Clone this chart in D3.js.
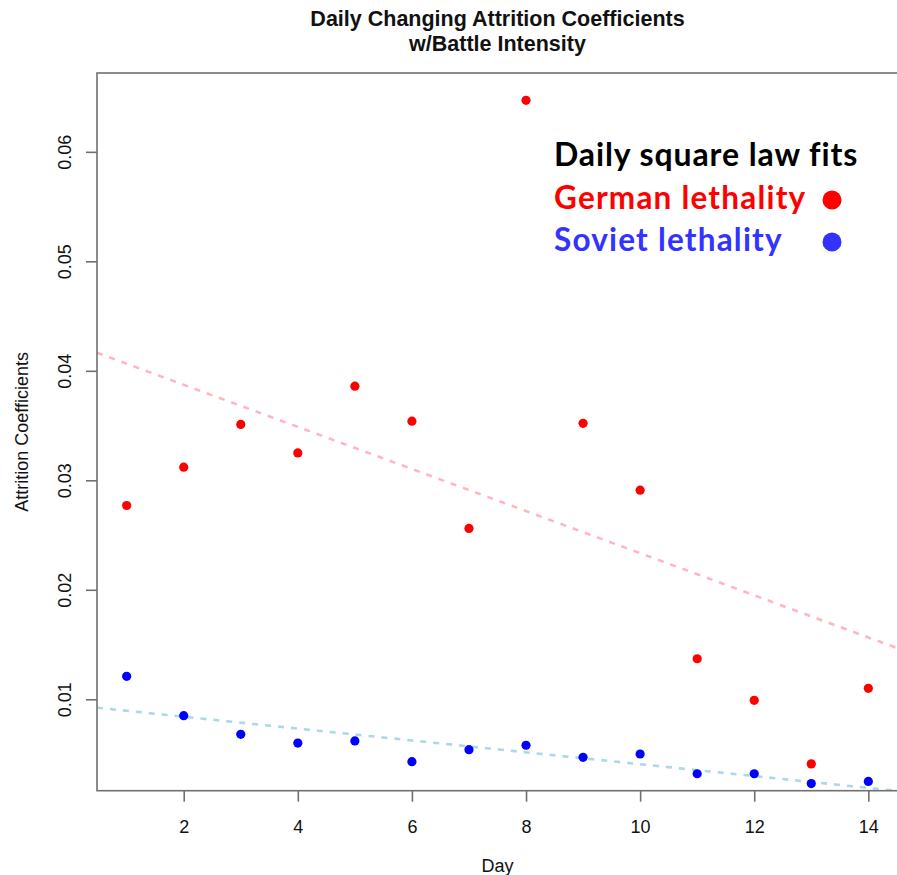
<!DOCTYPE html>
<html>
<head>
<meta charset="utf-8">
<script src="https://cdn.jsdelivr.net/npm/d3@7"></script>
<style>
  html, body { margin: 0; padding: 0; background: #fff; }
  svg { display: block; }
</style>
</head>
<body>
<svg id="chart" width="897" height="875"></svg>
<script>
// Days of the battle
const days = [1, 2, 3, 4, 5, 6, 7, 8, 9, 10, 11, 12, 13, 14];

// Daily square-law attrition coefficients
const germanLethality = [0.0277, 0.0312, 0.0351, 0.0325, 0.0386, 0.0354, 0.0256,
                         0.0647, 0.0352, 0.0291, 0.0137, 0.0099, 0.0041, 0.0110];
const sovietLethality = [0.0121, 0.0085, 0.0068, 0.0060, 0.0062, 0.0043, 0.0054,
                         0.0058, 0.0047, 0.0050, 0.0032, 0.0032, 0.0023, 0.0025];

// Straight-line trends (intercept at day 0, slope per day)
const germanTrend = { intercept: 0.04257, slope: -0.001923 };
const sovietTrend = { intercept: 0.00949, slope: -0.000542 };

// Axis ticks
const xTicks = [2, 4, 6, 8, 10, 12, 14];
const yTicks = [0.01, 0.02, 0.03, 0.04, 0.05, 0.06];

const titleLines = ["Daily Changing Attrition Coefficients", "w/Battle Intensity"];
const legendTitle = "Daily square law fits";
const legendEntries = [
  { label: "German lethality", textColor: "#ff0000", dotColor: "#ff0000" },
  { label: "Soviet lethality", textColor: "#3333ff", dotColor: "#3333ff" }
];

const baseFont = "'Liberation Sans', Arial, sans-serif";
const legendFont = "Lato, 'Open Sans', sans-serif";

const svg = d3.select("#chart");
const plot = { left: 97, right: 898, top: 73, bottom: 790.7 };

const x = d3.scaleLinear().domain([0.48, 14.52]).range([plot.left, plot.right]);
const y = d3.scaleLinear().domain([0.00165, 0.0672]).range([plot.bottom, plot.top]);

// Clip for the plotting region
svg.append("defs").append("clipPath").attr("id", "plotClip")
  .append("rect")
  .attr("x", plot.left).attr("y", plot.top)
  .attr("width", plot.right - plot.left).attr("height", plot.bottom - plot.top);

// Title
svg.append("g").selectAll("text")
  .data(titleLines)
  .join("text")
  .attr("x", (plot.left + plot.right) / 2)
  .attr("y", (d, i) => 26 + i * 25)
  .attr("text-anchor", "middle")
  .style("font-family", baseFont)
  .style("font-weight", "bold")
  .style("font-size", "21.5px")
  .style("fill", "#111")
  .text(d => d);

// Trend lines
const layer = svg.append("g").attr("clip-path", "url(#plotClip)");
const trendLine = (t) => [x.domain()[0], x.domain()[1]].map(d => [x(d), y(t.intercept + t.slope * d)]);

layer.append("path")
  .attr("d", d3.line()(trendLine(germanTrend)))
  .attr("fill", "none")
  .attr("stroke", "#ffb6c1")
  .attr("stroke-width", 2.6)
  .attr("stroke-dasharray", "6,7");

layer.append("path")
  .attr("d", d3.line()(trendLine(sovietTrend)))
  .attr("fill", "none")
  .attr("stroke", "#add8e6")
  .attr("stroke-width", 2.6)
  .attr("stroke-dasharray", "6,7");

// Points
layer.append("g").selectAll("circle")
  .data(days.map((d, i) => [d, germanLethality[i]]))
  .join("circle")
  .attr("cx", d => x(d[0])).attr("cy", d => y(d[1]))
  .attr("r", 4.6).attr("fill", "#ff0000");

layer.append("g").selectAll("circle")
  .data(days.map((d, i) => [d, sovietLethality[i]]))
  .join("circle")
  .attr("cx", d => x(d[0])).attr("cy", d => y(d[1]))
  .attr("r", 4.6).attr("fill", "#0000ff");

// Plot frame
svg.append("rect")
  .attr("x", plot.left).attr("y", plot.top)
  .attr("width", plot.right - plot.left).attr("height", plot.bottom - plot.top)
  .attr("fill", "none").attr("stroke", "#707070").attr("stroke-width", 1.6);

// X axis
const xAxis = svg.append("g")
  .attr("transform", `translate(0,${plot.bottom})`)
  .call(d3.axisBottom(x).tickValues(xTicks).tickFormat(d3.format("d")).tickSize(11).tickPadding(19));
xAxis.select(".domain").remove();
xAxis.selectAll(".tick line").attr("stroke", "#707070").attr("stroke-width", 1.6);
xAxis.selectAll(".tick text")
  .style("font-family", baseFont)
  .style("font-size", "18px").style("fill", "#111");

// Y axis
const yAxis = svg.append("g")
  .attr("transform", `translate(${plot.left},0)`)
  .call(d3.axisLeft(y).tickValues(yTicks).tickFormat(d3.format(".2f")).tickSize(11));
yAxis.select(".domain").remove();
yAxis.selectAll(".tick line").attr("stroke", "#707070").attr("stroke-width", 1.6);
yAxis.selectAll(".tick text")
  .style("font-family", baseFont)
  .style("font-size", "18px").style("fill", "#111")
  .attr("x", null).attr("dy", null)
  .attr("text-anchor", "middle")
  .attr("transform", "translate(-26,0) rotate(-90)");

// Axis titles
svg.append("text")
  .attr("x", (plot.left + plot.right) / 2).attr("y", 872)
  .attr("text-anchor", "middle")
  .style("font-family", baseFont).style("font-size", "18px").style("fill", "#111")
  .text("Day");

svg.append("text")
  .attr("transform", `translate(28,${(plot.top + plot.bottom) / 2}) rotate(-90)`)
  .attr("text-anchor", "middle")
  .style("font-family", baseFont).style("font-size", "18px").style("fill", "#111")
  .text("Attrition Coefficients");

// Legend
const legend = svg.append("g").attr("transform", "translate(554,0)");
legend.append("text")
  .attr("x", 0).attr("y", 166)
  .style("font-family", legendFont)
  .style("font-weight", "bold").style("font-size", "32px")
  .style("letter-spacing", "0.9px")
  .style("fill", "#000")
  .text(legendTitle);

const entry = legend.selectAll("g.entry")
  .data(legendEntries)
  .join("g").attr("class", "entry")
  .attr("transform", (d, i) => `translate(0,${209 + i * 42})`);
entry.append("text")
  .style("font-family", legendFont)
  .style("font-weight", "bold")
  .style("font-size", "31.5px")
  .style("letter-spacing", "1.2px")
  .style("fill", d => d.textColor)
  .text(d => d.label);
entry.append("circle")
  .attr("cx", 278).attr("cy", -9).attr("r", 9.5)
  .attr("fill", d => d.dotColor);
</script>
</body>
</html>
